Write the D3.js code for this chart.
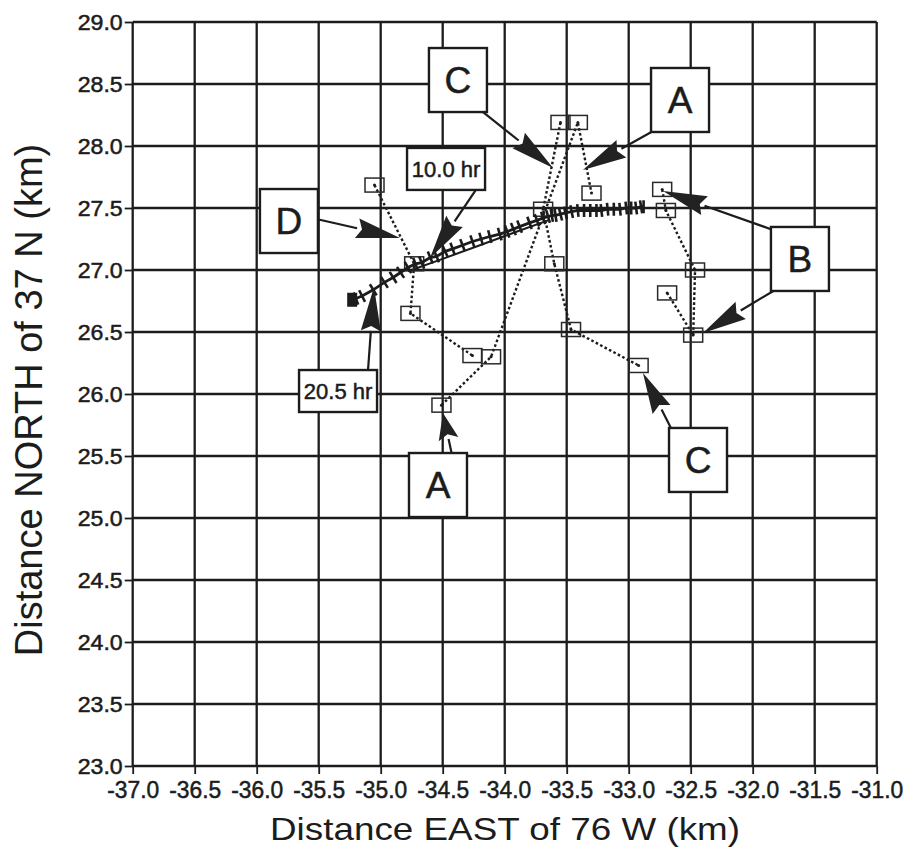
<!DOCTYPE html>
<html><head><meta charset="utf-8">
<script src="https://cdn.jsdelivr.net/npm/d3@7"></script>
<style>body{margin:0;background:#fff}svg{display:block}</style>
</head><body>
<svg id="chart" width="907" height="852"></svg>
<script>
// ---- data ----
const xTicks = [-37.0,-36.5,-36.0,-35.5,-35.0,-34.5,-34.0,-33.5,-33.0,-32.5,-32.0,-31.5,-31.0];
const yTicks = [23.0,23.5,24.0,24.5,25.0,25.5,26.0,26.5,27.0,27.5,28.0,28.5,29.0];
const xTitle = "Distance EAST of 76 W (km)";
const yTitle = "Distance NORTH of 37 N (km)";

// drifter track (hatched positions)
const track = [
  [-35.23,26.76],[-35.20,26.77],[-35.15,26.79],[-35.06,26.84],[-34.97,26.90],[-34.90,26.94],
  [-34.84,26.98],[-34.78,27.02],[-34.72,27.05],[-34.67,27.06],[-34.60,27.10],[-34.55,27.11],
  [-34.48,27.15],[-34.42,27.17],[-34.34,27.20],[-34.26,27.23],[-34.19,27.25],[-34.12,27.27],
  [-34.04,27.29],[-33.98,27.31],[-33.93,27.33],[-33.88,27.35],[-33.80,27.38],[-33.74,27.40],
  [-33.69,27.42],[-33.65,27.43],[-33.62,27.44],[-33.59,27.44],[-33.55,27.45],[-33.51,27.46],
  [-33.46,27.47],[-33.41,27.48],[-33.36,27.48],[-33.31,27.48],[-33.26,27.48],[-33.22,27.48],
  [-33.17,27.49],[-33.12,27.49],[-33.07,27.49],[-33.02,27.50],[-32.98,27.50],[-32.94,27.50],
  [-32.90,27.51],[-32.88,27.51]
];
// second (return) strand of the track, slightly below
const track2 = [[-34.78,26.99],[-34.50,27.09],[-34.20,27.20],[-33.90,27.31],[-33.65,27.40]];

// box-marker sequences joined by dotted lines
const seriesA = [[-34.51,25.91],[-34.11,26.30],[-33.41,28.19],[-33.30,27.62]];
const seriesB = [[-32.73,27.65],[-32.70,27.48],[-32.465,27.00],[-32.48,26.475],[-32.69,26.815]];
const seriesC = [[-33.55,28.19],[-33.69,27.49],[-33.60,27.05],[-33.465,26.52],[-32.92,26.23]];
const seriesD = [[-35.05,27.685],[-34.73,27.05],[-34.76,26.65],[-34.26,26.31]];

// annotation labels (anchor in data units)
const labelText = ["C","A","D","10.0 hr","20.5 hr","B","A","C"];
const labelX    = [-34.377,-32.586,-35.74,-34.473,-35.344,-31.619,-34.538,-32.441];
const labelY    = [28.532,28.371,27.395,27.815,26.024,27.089,25.266,25.468];

// arrows: from (label side) -> tip
const arrowFrom = [[-34.215,28.306],[-32.788,28.129],[-35.554,27.419],[-34.223,27.661],
                   [-35.102,26.194],[-31.836,27.323],[-31.82,26.839],[-34.425,25.508],[-32.643,25.694]];
const arrowTo   = [[-33.61,27.823],[-33.369,27.806],[-34.844,27.258],[-34.602,27.097],
                   [-35.054,26.863],[-32.723,27.637],[-32.401,26.492],[-34.498,25.847],[-32.885,26.169]];

// ---- drawing ----
const svg = d3.select("#chart");
const ink = "#1c1c1c";
const FONT = "Liberation Sans, Arial, sans-serif";
const x = d3.scaleLinear().domain([-37,-31]).range([132.7,876.7]);
const y = d3.scaleLinear().domain([23,29]).range([766,22]);
const fmt = d => d.toFixed(1);

// grid
const g = svg.append("g");
g.selectAll("line.vx").data(xTicks).join("line")
  .attr("x1",d=>x(d)).attr("x2",d=>x(d)).attr("y1",y(23)).attr("y2",y(29))
  .attr("stroke",ink).attr("stroke-width",2.3);
g.selectAll("line.hy").data(yTicks).join("line").attr("class","hy")
  .attr("y1",d=>y(d)).attr("y2",d=>y(d)).attr("x1",x(-37)).attr("x2",x(-31))
  .attr("stroke",ink).attr("stroke-width",2.3);

// axes
const xa = svg.append("g").attr("transform",`translate(0,${y(23)})`)
  .call(d3.axisBottom(x).tickValues(xTicks).tickFormat(fmt).tickSize(8).tickPadding(8));
const ya = svg.append("g").attr("transform",`translate(${x(-37)},0)`)
  .call(d3.axisLeft(y).tickValues(yTicks).tickFormat(fmt).tickSize(8).tickPadding(2));
[xa,ya].forEach(a=>{
  a.select(".domain").remove();
  a.selectAll(".tick line").attr("stroke",ink).attr("stroke-width",1.8);
  a.selectAll("text").attr("fill",ink).attr("stroke",ink).attr("stroke-width",0.5)
    .style("font-family",FONT);
});
xa.selectAll("text").style("font-size","23px").attr("textLength",52).attr("lengthAdjust","spacingAndGlyphs");
ya.selectAll("text").style("font-size","22px").attr("textLength",45).attr("lengthAdjust","spacingAndGlyphs");

// titles
svg.append("text").attr("x",(270+740)/2).attr("y",840).attr("text-anchor","middle")
  .style("font-family",FONT).style("font-size","32px").attr("fill",ink)
  .attr("textLength",470).attr("lengthAdjust","spacingAndGlyphs").text(xTitle);
svg.append("text").attr("transform","translate(42,400) rotate(-90)").attr("text-anchor","middle")
  .style("font-family",FONT).style("font-size","38px").attr("fill",ink)
  .text(yTitle);

// dotted connecting lines + box markers
const line = d3.line().x(d=>x(d[0])).y(d=>y(d[1]));
const series = [seriesA,seriesB,seriesC,seriesD];
svg.append("g").selectAll("path").data(series).join("path")
  .attr("d",line).attr("fill","none").attr("stroke",ink).attr("stroke-width",2.4)
  .attr("stroke-dasharray","2.6,2.4");
const pts = series.flat();
const mk = svg.append("g").selectAll("g").data(pts).join("g")
  .attr("transform",d=>`translate(${x(d[0])},${y(d[1])})`);
mk.append("rect").attr("x",-9.5).attr("y",-7).attr("width",19).attr("height",14)
  .attr("fill","none").attr("stroke","#2a2a2a").attr("stroke-width",1.5);
mk.append("circle").attr("r",1.5).attr("fill",ink);

// track lines + hatches
svg.append("path").datum(track2).attr("d",line).attr("fill","none")
  .attr("stroke",ink).attr("stroke-width",2);
svg.append("path").datum(track).attr("d",line).attr("fill","none")
  .attr("stroke",ink).attr("stroke-width",2.8);
const hat = svg.append("g");
track.forEach((p,i)=>{
  const a = track[Math.max(0,i-1)], b = track[Math.min(track.length-1,i+1)];
  let dx = x(b[0])-x(a[0]), dy = y(b[1])-y(a[1]);
  const L = Math.hypot(dx,dy)||1; dx/=L; dy/=L;
  const h = 6.5, cx = x(p[0]), cy = y(p[1]);
  hat.append("line").attr("x1",cx-dy*h).attr("y1",cy+dx*h).attr("x2",cx+dy*h).attr("y2",cy-dx*h)
    .attr("stroke",ink).attr("stroke-width",2.6);
});
// dark start blob
svg.append("rect").attr("x",x(track[0][0])-5).attr("y",y(track[0][1])-7).attr("width",10).attr("height",14)
  .attr("fill",ink);

// arrows
const ag = svg.append("g");
arrowFrom.forEach((f,i)=>{
  const t = arrowTo[i];
  const fx=x(f[0]), fy=y(f[1]), tx=x(t[0]), ty=y(t[1]);
  let dx=tx-fx, dy=ty-fy; const L=Math.hypot(dx,dy); dx/=L; dy/=L;
  const hl = Math.min(44, L*0.62), hw = 10;
  const bx = tx-dx*hl, by = ty-dy*hl;
  ag.append("line").attr("x1",fx).attr("y1",fy).attr("x2",bx).attr("y2",by)
    .attr("stroke",ink).attr("stroke-width",2.2);
  ag.append("path").attr("d",`M${tx},${ty}L${bx-dy*hw},${by+dx*hw}L${bx+dx*5},${by+dy*5}L${bx+dy*hw},${by-dx*hw}Z`)
    .attr("fill","#222");
});

// label boxes
const lg = svg.append("g").selectAll("g").data(labelText).join("g")
  .attr("transform",(d,i)=>`translate(${x(labelX[i])},${y(labelY[i])})`);
lg.append("rect")
  .attr("x",d=>d.length>1?-39:-29).attr("y",d=>d.length>1?-21:-32)
  .attr("width",d=>d.length>1?78:58).attr("height",d=>d.length>1?42:64)
  .attr("fill","#fff").attr("stroke",ink).attr("stroke-width",2.4);
lg.append("text").attr("text-anchor","middle").attr("dy","0.36em")
  .style("font-family",FONT).attr("stroke",ink).attr("stroke-width",0.5)
  .style("font-size",d=>d.length>1?"22px":"37px").attr("fill",ink).text(d=>d);
</script>
</body></html>
